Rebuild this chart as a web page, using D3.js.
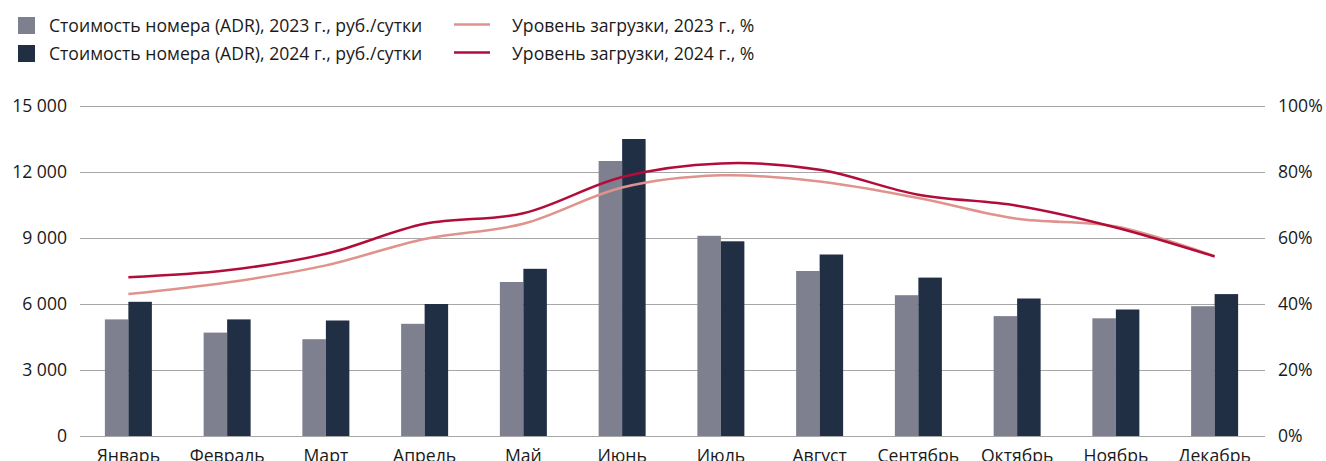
<!DOCTYPE html>
<html>
<head>
<meta charset="utf-8">
<script src="https://cdn.jsdelivr.net/npm/d3@7"></script>
<style>
  body { margin: 0; background: #fff; }
  svg { display: block; font-family: "Open Sans", sans-serif; }
</style>
</head>
<body>
<script>
// months on the x axis
var months = ["Январь", "Февраль", "Март", "Апрель", "Май", "Июнь",
              "Июль", "Август", "Сентябрь", "Октябрь", "Ноябрь", "Декабрь"];
// ADR, rub per night
var adr2023 = [5300, 4700, 4400, 5100, 7000, 12500, 9100, 7500, 6400, 5450, 5350, 5900];
var adr2024 = [6100, 5300, 5250, 6000, 7600, 13500, 8850, 8250, 7200, 6250, 5750, 6450];
// occupancy, %
var occ2023 = [43, 46.5, 51.7, 59.7, 64.3, 75.3, 79, 77.1, 72.1, 65.8, 63.5, 54.5];
var occ2024 = [48.1, 50.2, 55.2, 64.3, 67.5, 78.5, 82.6, 80.7, 73.1, 69.8, 63.2, 54.4];
var leftTicks = [0, 3000, 6000, 9000, 12000, 15000];
var rightTicks = [0, 20, 40, 60, 80, 100];
var legendBars = ["Стоимость номера (ADR), 2023 г., руб./сутки", "Стоимость номера (ADR), 2024 г., руб./сутки"];
var legendLines = ["Уровень загрузки, 2023 г., %", "Уровень загрузки, 2024 г., %"];

var width = 1326, height = 461;
var margin = {left: 80, right: 61, top: 106, bottom: 25};
var fs = 17.6;

var colGray = "#7f808f", colDark = "#212f45";
var colLight = "#e0928c", colRed = "#b20d3a";

var svg = d3.select("body").append("svg")
    .attr("width", width)
    .attr("height", height);

var x = d3.scaleBand()
    .domain(months)
    .range([margin.left, width - margin.right]);

var yL = d3.scaleLinear().domain([0, 15000]).range([height - margin.bottom, margin.top]);
var yR = d3.scaleLinear().domain([0, 100]).range([height - margin.bottom, margin.top]);

// gridlines
svg.append("g").selectAll("line")
    .data(leftTicks)
    .enter().append("line")
    .attr("x1", margin.left)
    .attr("x2", width - margin.right)
    .attr("y1", function(d) { return Math.round(yL(d)) + 0.5; })
    .attr("y2", function(d) { return Math.round(yL(d)) + 0.5; })
    .attr("stroke", "#a6a6a6")
    .attr("stroke-width", 1.2);

// left axis labels
var fmt = function(d) { return d3.format(",")(d).replace(/,/g, " "); };
svg.append("g").selectAll("text")
    .data(leftTicks)
    .enter().append("text")
    .attr("x", 67)
    .attr("y", function(d) { return yL(d); })
    .attr("dy", "0.35em")
    .attr("text-anchor", "end")
    .attr("font-size", fs)
    .attr("fill", "#1a1a1a")
    .text(fmt);

// right axis labels
svg.append("g").selectAll("text")
    .data(rightTicks)
    .enter().append("text")
    .attr("x", 1278)
    .attr("y", function(d) { return yR(d); })
    .attr("dy", "0.35em")
    .attr("font-size", fs)
    .attr("fill", "#1a1a1a")
    .text(function(d) { return d + "%"; });

// bars
var barW = 23.5;
var bars = svg.append("g");
bars.selectAll("rect.a")
    .data(adr2023)
    .enter().append("rect")
    .attr("x", function(d, i) { return x(months[i]) + x.bandwidth() / 2 - barW - 1; })
    .attr("y", function(d) { return yL(d); })
    .attr("width", barW)
    .attr("height", function(d) { return yL(0) - yL(d); })
    .attr("fill", colGray);
bars.selectAll("rect.b")
    .data(adr2024)
    .enter().append("rect")
    .attr("x", function(d, i) { return x(months[i]) + x.bandwidth() / 2 - 1; })
    .attr("y", function(d) { return yL(d); })
    .attr("width", barW)
    .attr("height", function(d) { return yL(0) - yL(d); })
    .attr("fill", colDark);

// x labels
svg.append("g").selectAll("text")
    .data(months)
    .enter().append("text")
    .attr("x", function(d) { return x(d) + x.bandwidth() / 2 - 1; })
    .attr("y", 462)
    .attr("text-anchor", "middle")
    .attr("font-size", fs)
    .attr("fill", "#1a1a1a")
    .text(function(d) { return d; });

// occupancy lines
var line = d3.line()
    .x(function(d, i) { return x(months[i]) + x.bandwidth() / 2 - 1; })
    .y(function(d) { return yR(d); })
    .curve(d3.curveCatmullRom);

svg.append("path")
    .attr("d", line(occ2023))
    .attr("fill", "none")
    .attr("stroke", colLight)
    .attr("stroke-width", 2.5);
svg.append("path")
    .attr("d", line(occ2024))
    .attr("fill", "none")
    .attr("stroke", colRed)
    .attr("stroke-width", 2.5);

// legend
var lg = svg.append("g");
lg.selectAll("rect")
    .data([colGray, colDark])
    .enter().append("rect")
    .attr("x", 18)
    .attr("y", function(d, i) { return 17 + i * 28; })
    .attr("width", 17)
    .attr("height", 17)
    .attr("fill", function(d) { return d; });
lg.selectAll("text.b")
    .data(legendBars)
    .enter().append("text")
    .attr("x", 49)
    .attr("y", function(d, i) { return 25.5 + i * 28; })
    .attr("dy", "0.35em")
    .attr("font-size", fs)
    .attr("fill", "#1a1a1a")
    .text(function(d) { return d; });
lg.selectAll("line")
    .data([colLight, colRed])
    .enter().append("line")
    .attr("x1", 454)
    .attr("x2", 490)
    .attr("y1", function(d, i) { return 24.5 + i * 28; })
    .attr("y2", function(d, i) { return 24.5 + i * 28; })
    .attr("stroke", function(d) { return d; })
    .attr("stroke-width", 2.5);
lg.selectAll("text.l")
    .data(legendLines)
    .enter().append("text")
    .attr("x", 512)
    .attr("y", function(d, i) { return 25.5 + i * 28; })
    .attr("dy", "0.35em")
    .attr("font-size", fs)
    .attr("fill", "#1a1a1a")
    .text(function(d) { return d; });
</script>
</body>
</html>
